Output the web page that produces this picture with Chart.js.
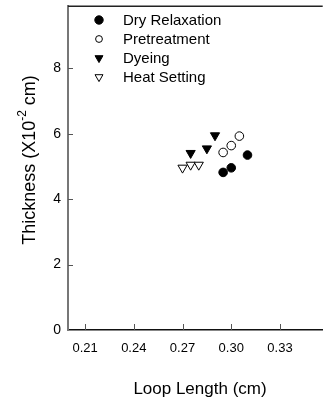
<!DOCTYPE html>
<html>
<head>
<meta charset="utf-8">
<script src="https://cdn.jsdelivr.net/npm/chart.js@4/dist/chart.umd.min.js"></script>
<style>
  html, body { margin: 0; padding: 0; background: #fff; }
  canvas { display: block; }
</style>
</head>
<body>
<canvas id="loopChart" width="329" height="403"></canvas>
<script>
const seriesNames = ['Dry Relaxation', 'Pretreatment', 'Dyeing', 'Heat Setting'];
const dryX = [0.295, 0.300, 0.310];
const dryY = [4.82, 4.96, 5.35];
const pretX = [0.295, 0.300, 0.305];
const pretY = [5.43, 5.64, 5.93];
const dyeX = [0.275, 0.285, 0.290];
const dyeY = [5.41, 5.55, 5.95];
const heatX = [0.270, 0.275, 0.280];
const heatY = [4.96, 5.05, 5.05];
const xTicks = [0.21, 0.24, 0.27, 0.30, 0.33];
const yTicks = [0, 2, 4, 6, 8];

const FONT = '"Liberation Sans", Arial, sans-serif';
const pts = (xs, ys) => xs.map((v, i) => ({x: v, y: ys[i]}));

const styles = [
    {pointStyle: 'circle', fill: '#000', r: 4.3, rotation: 0, lr: 4.2},
    {pointStyle: 'circle', fill: '#fff', r: 4.3, rotation: 0, lr: 3.4},
    {pointStyle: 'triangle', fill: '#000', r: 5.3, rotation: 180, lr: 4.6},
    {pointStyle: 'triangle', fill: '#fff', r: 5.3, rotation: 180, lr: 4.6}
];
const series = [pts(dryX, dryY), pts(pretX, pretY), pts(dyeX, dyeY), pts(heatX, heatY)];

// top frame line, inward tick marks, axis titles and the legend inside the plot
const decorations = {
    id: 'decorations',
    afterDraw(chart) {
        const {ctx, chartArea: a, scales: {x, y}} = chart;
        ctx.save();
        ctx.strokeStyle = '#222';
        ctx.lineWidth = 1.5;
        ctx.beginPath();
        ctx.moveTo(a.left, a.top);
        ctx.lineTo(a.right, a.top);
        ctx.stroke();

        ctx.strokeStyle = '#555';
        ctx.lineWidth = 1;
        ctx.beginPath();
        xTicks.forEach(v => {
            const px = Math.round(x.getPixelForValue(v)) + 0.5;
            ctx.moveTo(px, a.bottom);
            ctx.lineTo(px, a.bottom - 6);
        });
        yTicks.slice(1).forEach(v => {
            const py = Math.round(y.getPixelForValue(v)) + 0.5;
            ctx.moveTo(a.left, py);
            ctx.lineTo(a.left + 5, py);
        });
        ctx.stroke();

        // x title
        ctx.fillStyle = '#000';
        ctx.font = '17px ' + FONT;
        ctx.textAlign = 'center';
        ctx.textBaseline = 'middle';
        ctx.fillText('Loop Length (cm)', 200, 389);

        // y title with superscript
        ctx.save();
        ctx.translate(30, 160);
        ctx.rotate(-Math.PI / 2);
        const p1 = 'Thickness (X10', sup = '-2', p2 = ' cm)';
        ctx.font = '18px ' + FONT;
        const w1 = ctx.measureText(p1).width, w3 = ctx.measureText(p2).width;
        ctx.font = '12px ' + FONT;
        const w2 = ctx.measureText(sup).width;
        let cx = -(w1 + w2 + w3) / 2;
        ctx.textAlign = 'left';
        ctx.font = '18px ' + FONT;
        ctx.fillText(p1, cx, 0);
        cx += w1;
        ctx.font = '12px ' + FONT;
        ctx.fillText(sup, cx, -7);
        cx += w2;
        ctx.font = '18px ' + FONT;
        ctx.fillText(p2, cx, 0);
        ctx.restore();

        // legend
        const rows = [20, 39, 58, 77];
        ctx.font = '15px ' + FONT;
        ctx.textAlign = 'left';
        ctx.textBaseline = 'middle';
        chart.data.datasets.forEach((ds, i) => {
            const s = styles[i];
            ctx.fillStyle = s.fill;
            ctx.strokeStyle = '#000';
            ctx.lineWidth = 1;
            Chart.helpers.drawPoint(ctx, {pointStyle: s.pointStyle, rotation: s.rotation, radius: s.lr, borderWidth: 1}, 99, rows[i]);
            ctx.fillStyle = '#000';
            ctx.fillText(ds.label, 123, rows[i] + 1);
        });
        ctx.restore();
    }
};

new Chart(document.getElementById('loopChart'), {
    type: 'scatter',
    data: {
        datasets: series.map((data, i) => ({
            label: seriesNames[i],
            data: data,
            pointStyle: styles[i].pointStyle,
            rotation: styles[i].rotation,
            pointRadius: styles[i].r,
            pointHoverRadius: styles[i].r,
            backgroundColor: styles[i].fill,
            borderColor: '#000',
            borderWidth: 1
        }))
    },
    options: {
        responsive: false,
        animation: false,
        layout: {padding: {top: 4, right: 0, left: 0, bottom: 0}},
        plugins: {legend: {display: false}, tooltip: {enabled: false}},
        scales: {
            x: {
                type: 'linear',
                min: 0.1995,
                max: 0.3563,
                afterBuildTicks: s => { s.ticks = xTicks.map(v => ({value: v})); },
                afterFit: s => { s.height = 73; s.paddingLeft = 0; s.paddingRight = 0; },
                grid: {display: true, drawOnChartArea: false, drawTicks: false},
                border: {display: true, color: '#111', width: 1.5},
                ticks: {
                    padding: 11,
                    color: '#000',
                    font: {family: FONT, size: 13},
                    maxRotation: 0,
                    callback: v => v.toFixed(2)
                }
            },
            y: {
                type: 'linear',
                min: 0,
                max: 9.9,
                afterBuildTicks: s => { s.ticks = yTicks.map(v => ({value: v})); },
                afterFit: s => { s.width = 68; s.paddingTop = 0; s.paddingBottom = 0; },
                grid: {display: true, drawOnChartArea: false, drawTicks: false},
                border: {display: true, color: '#777', width: 2},
                ticks: {
                    padding: 7,
                    color: '#000',
                    font: {family: FONT, size: 14},
                    callback: v => String(v)
                }
            }
        }
    },
    plugins: [decorations]
});
</script>
</body>
</html>
